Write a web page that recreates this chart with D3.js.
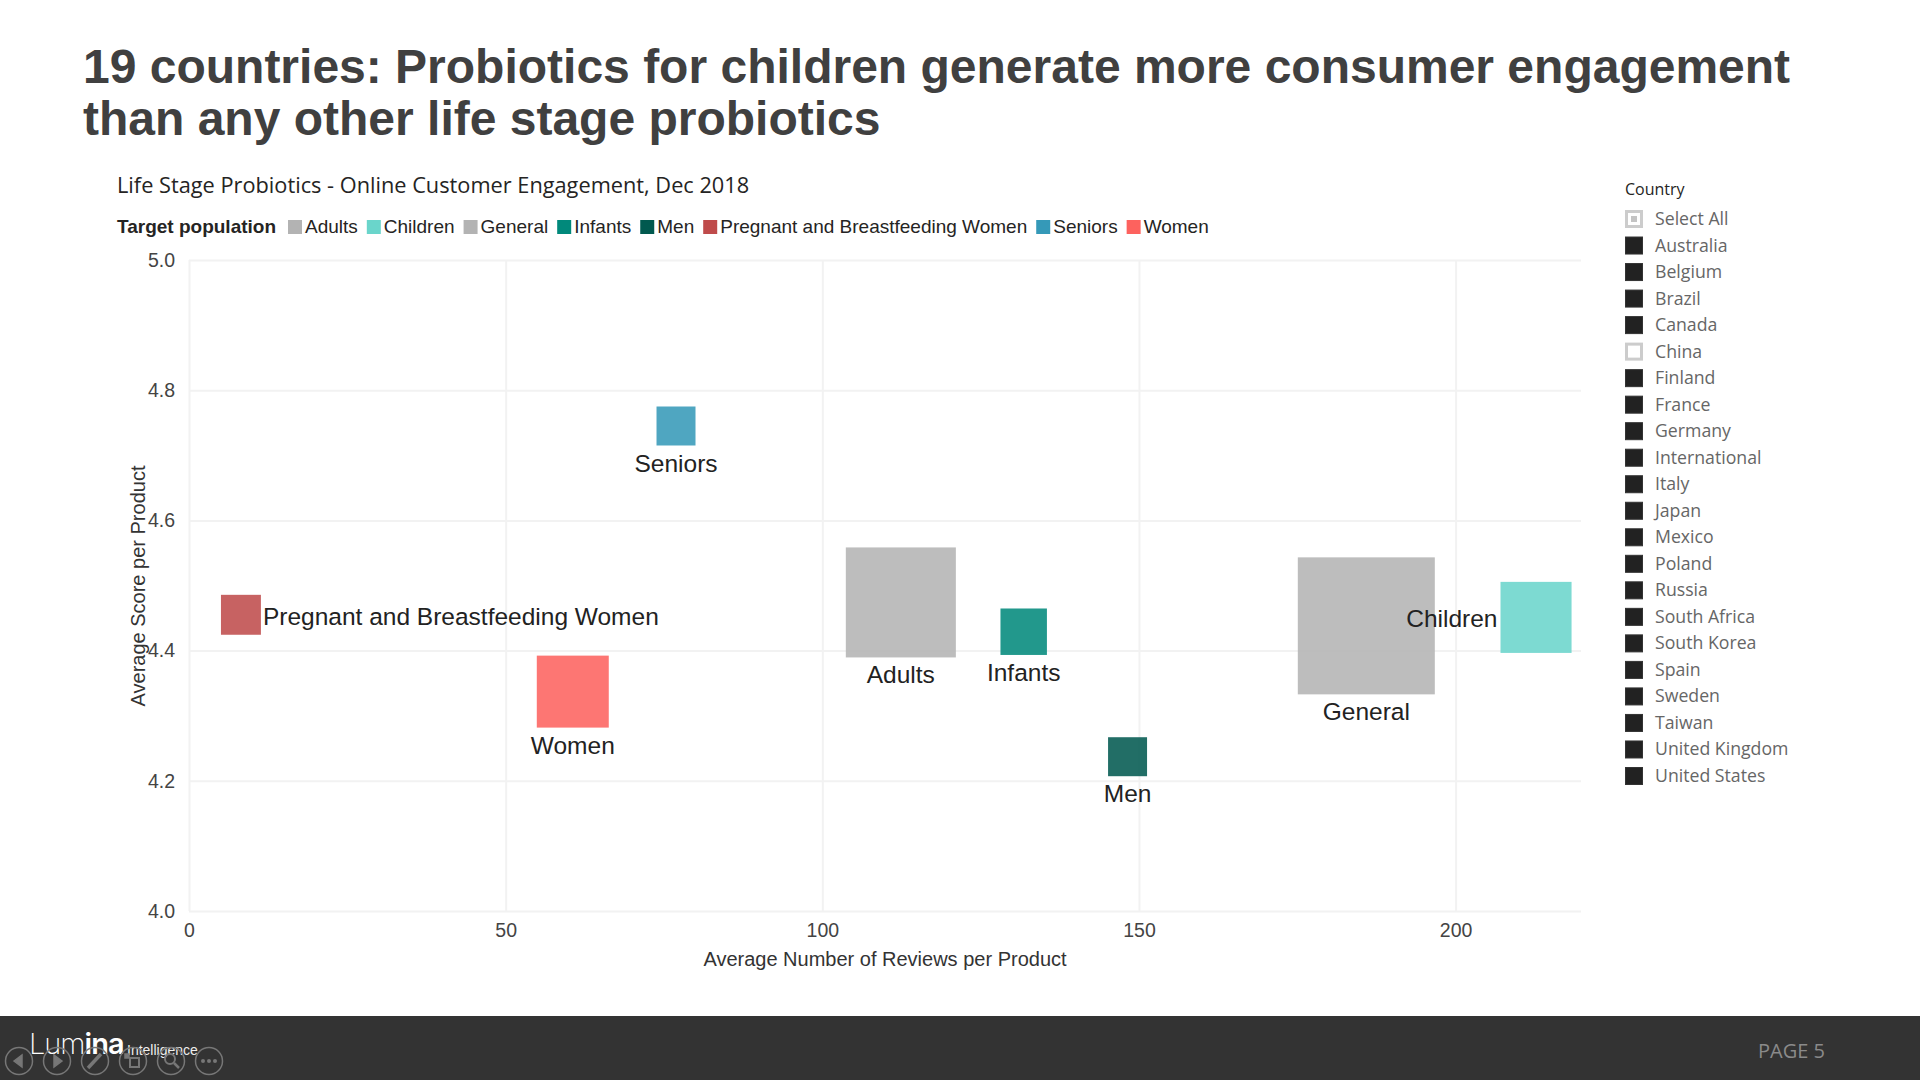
<!DOCTYPE html>
<html>
<head>
<meta charset="utf-8">
<script src="https://cdn.jsdelivr.net/npm/d3@7"></script>
<style>
  html, body { margin: 0; padding: 0; background: #fff; }
  svg { display: block; }
  text { font-family: "Liberation Sans", Arial, sans-serif; }
  .segoe { font-family: "Open Sans", sans-serif; }
</style>
</head>
<body>
<script>
// values
const categories = ['Adults', 'Children', 'General', 'Infants', 'Men', 'Pregnant and Breastfeeding Women', 'Seniors', 'Women'];
const reviews = [112.4, 212.7, 185.9, 131.8, 148.2, 8.2, 76.9, 60.6];
const scores = [4.474, 4.451, 4.438, 4.429, 4.237, 4.455, 4.745, 4.337];
// relative size of each square, largest = 100
const bubbleSizes = [64.5, 26.9, 100, 11.5, 8.1, 8.5, 8.1, 27.6];
const labelSides = ['below', 'left', 'below', 'below', 'below', 'right', 'below', 'below'];

const xTicks = [0, 50, 100, 150, 200];
const yTicks = [4.0, 4.2, 4.4, 4.6, 4.8, 5.0];
const countries = ['Australia', 'Belgium', 'Brazil', 'Canada', 'China', 'Finland', 'France', 'Germany', 'International', 'Italy', 'Japan', 'Mexico', 'Poland', 'Russia', 'South Africa', 'South Korea', 'Spain', 'Sweden', 'Taiwan', 'United Kingdom', 'United States'];
const unselected = ['China'];

const palette = ['#b3b3b3', '#6ad5cb', '#b3b3b3', '#01897b', '#01594f', '#bf4b4b', '#3599b8', '#fd625e'];

const width = 1920;
const height = 1080;
const margin = { left: 189, right: 339, top: 260, bottom: 169 };

const svg = d3.select('body').append('svg')
  .attr('width', width)
  .attr('height', height);

svg.append('rect').attr('width', width).attr('height', height).attr('fill', '#fff');

// headline
const headline = svg.append('g').attr('fill', '#404040')
  .attr('font-size', 48).attr('font-weight', 'bold');
headline.append('text').attr('x', 83).attr('y', 83)
  .text('19 countries: Probiotics for children generate more consumer engagement');
headline.append('text').attr('x', 83).attr('y', 135)
  .text('than any other life stage probiotics');

// chart title
svg.append('text').attr('class', 'segoe')
  .attr('x', 117).attr('y', 193)
  .attr('font-size', 21.75).attr('fill', '#252423')
  .text('Life Stage Probiotics - Online Customer Engagement, Dec 2018');

// scales
const x = d3.scaleLinear().domain([0, 219.8]).range([margin.left, width - margin.right]);
const y = d3.scaleLinear().domain([4, 5]).range([height - margin.bottom, margin.top]);
const side = d3.scaleSqrt().domain([0, 100]).range([0, 137]);
const colour = d3.scaleOrdinal().domain(categories).range(palette);

// axes double as gridlines
const xAxis = d3.axisBottom(x).tickValues(xTicks).tickSize(-(y.range()[0] - y.range()[1])).tickPadding(12).tickFormat(d3.format('d'));
const yAxis = d3.axisLeft(y).tickValues(yTicks).tickSize(-(x.range()[1] - x.range()[0])).tickPadding(14).tickFormat(d3.format('.1f'));

const xg = svg.append('g').attr('transform', 'translate(0,' + y(4) + ')').call(xAxis);
const yg = svg.append('g').attr('transform', 'translate(' + x(0) + ',0)').call(yAxis);

[xg, yg].forEach(function (g) {
  g.select('.domain').remove();
  g.selectAll('line').attr('stroke', '#f2f2f2').attr('stroke-width', 2);
  g.selectAll('text').attr('font-size', 19.5).attr('fill', '#444').style('font-family', '"Liberation Sans", Arial, sans-serif');
});
yg.selectAll('text').attr('dy', '0.32em');

// axis titles
svg.append('text').attr('text-anchor', 'middle')
  .attr('x', 885).attr('y', 966)
  .attr('font-size', 20).attr('fill', '#333')
  .text('Average Number of Reviews per Product');
svg.append('text').attr('text-anchor', 'middle')
  .attr('transform', 'translate(145,586) rotate(-90)')
  .attr('font-size', 20).attr('fill', '#333')
  .text('Average Score per Product');

// squares
const rows = categories.map(function (c, i) {
  return { name: c, reviews: reviews[i], score: scores[i], size: bubbleSizes[i], labelSide: labelSides[i] };
});

svg.append('g').selectAll('rect').data(rows).join('rect')
  .attr('x', function (d) { return x(d.reviews) - side(d.size) / 2; })
  .attr('y', function (d) { return y(d.score) - side(d.size) / 2; })
  .attr('width', function (d) { return side(d.size); })
  .attr('height', function (d) { return side(d.size); })
  .attr('fill', function (d) { return colour(d.name); })
  .attr('fill-opacity', 0.87);

svg.append('g').selectAll('text').data(rows).join('text')
  .attr('font-size', 24.5).attr('fill', '#222')
  .attr('text-anchor', function (d) {
    return d.labelSide === 'below' ? 'middle' : d.labelSide === 'left' ? 'end' : 'start';
  })
  .attr('x', function (d) {
    if (d.labelSide === 'left') return x(d.reviews) - side(d.size) / 2 - 3;
    if (d.labelSide === 'right') return x(d.reviews) + side(d.size) / 2 + 2;
    return x(d.reviews);
  })
  .attr('y', function (d) {
    if (d.labelSide === 'below') return y(d.score) + side(d.size) / 2 + 26;
    return y(d.score) + 10;
  })
  .text(function (d) { return d.name; });

// legend, laid out from the measured text widths
const legend = svg.append('g').attr('transform', 'translate(0,227)');
legend.append('text').attr('x', 117).attr('y', 6)
  .attr('font-size', 19).attr('font-weight', 'bold').attr('fill', '#252423')
  .text('Target population');
let legendX = 288;
categories.forEach(function (c) {
  legend.append('rect').attr('x', legendX).attr('y', -7).attr('width', 14).attr('height', 14)
    .attr('fill', colour(c));
  const t = legend.append('text').attr('x', legendX + 17).attr('y', 6)
    .attr('font-size', 19).attr('fill', '#252423').text(c);
  legendX += 17 + t.node().getComputedTextLength() + 9;
});

// country slicer
const slicer = svg.append('g').attr('class', 'segoe');
slicer.append('text').attr('class', 'segoe').attr('x', 1625).attr('y', 195)
  .attr('font-size', 16).attr('fill', '#252423').text('Country');

const slicerRows = ['Select All'].concat(countries);
const rowY = d3.scalePoint().domain(slicerRows).range([219, 776]);

const row = slicer.selectAll('g.row').data(slicerRows).join('g')
  .attr('class', 'row')
  .attr('transform', function (d) { return 'translate(0,' + rowY(d) + ')'; });

row.append('rect')
  .attr('x', function (d) { return d === 'Select All' || unselected.includes(d) ? 1626.5 : 1625.5; })
  .attr('y', function (d) { return d === 'Select All' || unselected.includes(d) ? -7.5 : -8.5; })
  .attr('width', function (d) { return d === 'Select All' || unselected.includes(d) ? 15 : 17; })
  .attr('height', function (d) { return d === 'Select All' || unselected.includes(d) ? 15 : 17; })
  .attr('fill', function (d) { return d === 'Select All' || unselected.includes(d) ? '#fff' : '#222'; })
  .attr('stroke', function (d) { return d === 'Select All' || unselected.includes(d) ? '#ccc' : '#333'; })
  .attr('stroke-width', function (d) { return d === 'Select All' || unselected.includes(d) ? 3 : 1; });

row.filter(function (d) { return d === 'Select All'; }).append('rect')
  .attr('x', 1631).attr('y', -3).attr('width', 6).attr('height', 6).attr('fill', '#c4c4c4');

row.append('text').attr('class', 'segoe')
  .attr('x', 1655).attr('y', 6)
  .attr('font-size', 17.7).attr('fill', '#666')
  .text(function (d) { return d; });

// footer bar
const footer = svg.append('g');
footer.append('rect').attr('y', 1016).attr('width', width).attr('height', 64).attr('fill', '#333');

const logo = footer.append('text').attr('x', 29).attr('y', 1054).attr('font-size', 29).attr('fill', '#fff').attr('letter-spacing', -1);
logo.append('tspan').attr('font-family', 'Inter, sans-serif').attr('font-weight', 200).text('Lum');
logo.append('tspan').attr('font-family', 'Inter, sans-serif').attr('font-weight', 600).text('ina');
footer.append('text').attr('x', 127).attr('y', 1055).attr('font-size', 14).attr('fill', '#eee').text('Intelligence');

footer.append('text').attr('class', 'segoe')
  .attr('x', 1758).attr('y', 1058).attr('font-size', 20).attr('fill', '#8a8a8a').text('PAGE 5');

// slide show controls
const controls = footer.append('g').attr('fill', 'none').attr('stroke', '#777').attr('stroke-width', 1.5);
[19, 57, 95, 133, 171, 209].forEach(function (cx, i) {
  const c = controls.append('g').attr('transform', 'translate(' + cx + ',1061)');
  c.append('circle').attr('r', 13.5);
  if (i === 0) c.append('path').attr('d', 'M-5,0 L3,-6 L3,6 Z').attr('fill', '#777');
  if (i === 1) c.append('path').attr('d', 'M5,0 L-3,-6 L-3,6 Z').attr('fill', '#777');
  if (i === 2) c.append('path').attr('d', 'M-7,7 L6,-7').attr('stroke-width', 3.5);
  if (i === 3) {
    c.append('rect').attr('x', -3).attr('y', -3).attr('width', 9).attr('height', 9).attr('stroke-width', 2);
    c.append('rect').attr('x', -8).attr('y', -7).attr('width', 4).attr('height', 4).attr('fill', '#777');
  }
  if (i === 4) {
    c.append('circle').attr('cx', -1).attr('cy', -2).attr('r', 5).attr('stroke-width', 2);
    c.append('path').attr('d', 'M3,2 L8,7').attr('stroke-width', 2.5);
  }
  if (i === 5) {
    [-6, 0, 6].forEach(function (dx) {
      c.append('circle').attr('cx', dx).attr('r', 2).attr('fill', '#777').attr('stroke', 'none');
    });
  }
});
</script>
</body>
</html>
